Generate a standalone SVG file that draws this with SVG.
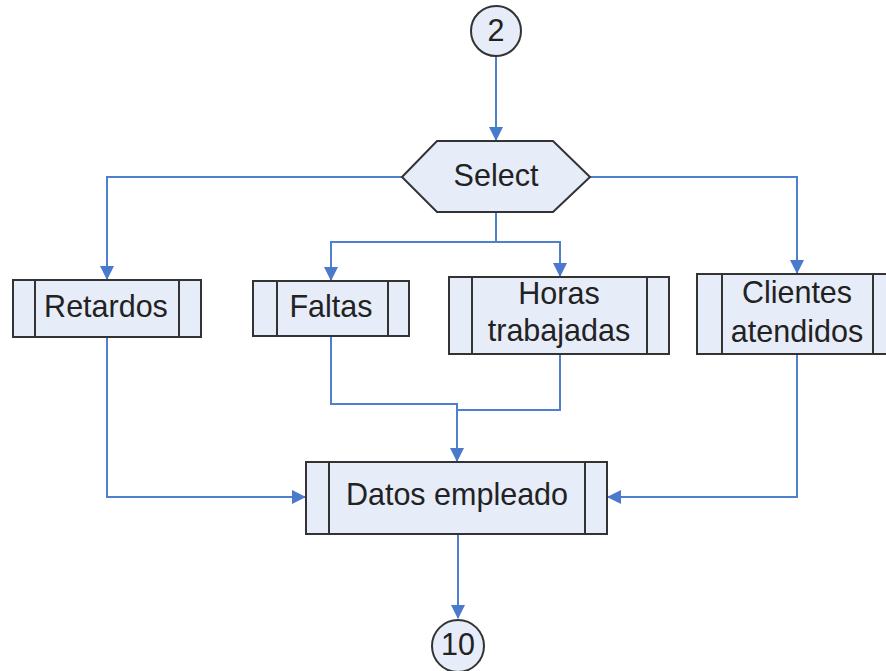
<svg xmlns="http://www.w3.org/2000/svg" width="886" height="671" viewBox="0 0 886 671">
<style>
.n{fill:#e6ecf8;stroke:#333;stroke-width:2}
.i{stroke:#333;stroke-width:2;fill:none}
.c{fill:none;stroke:#4f7fcf;stroke-width:2}
.t{font-family:"Liberation Sans",Arial,sans-serif;font-size:30.5px;fill:#222;text-anchor:middle}
</style>
<defs>
<marker id="a" markerWidth="14" markerHeight="14" refX="13" refY="7" orient="auto" markerUnits="userSpaceOnUse">
<path d="M0,0 L14,7 L0,14 Z" fill="#4a7acb"/>
</marker>
</defs>
<rect width="886" height="671" fill="#fff"/>
<g id="connectors">
<path class="c" d="M496,57 V140" marker-end="url(#a)"/>
<path class="c" d="M402,177 H107 V279" marker-end="url(#a)"/>
<path class="c" d="M590,177 H797 V273" marker-end="url(#a)"/>
<path class="c" d="M496,212 V242 H331 V280" marker-end="url(#a)"/>
<path class="c" d="M496,242 H560 V276" marker-end="url(#a)"/>
<path class="c" d="M107,337 V497 H305" marker-end="url(#a)"/>
<path class="c" d="M331,336 V404 H457 V461" marker-end="url(#a)"/>
<path class="c" d="M560,354 V410 H457"/>
<path class="c" d="M797,354 V497 H608" marker-end="url(#a)"/>
<path class="c" d="M458,534 V618" marker-end="url(#a)"/>
</g>
<g id="c2">
<circle class="n" cx="496" cy="31" r="25"/>
<text class="t" x="496" y="41">2</text>
</g>
<g id="select">
<polygon class="n" points="402,177 437,141 553,141 590,177 553,212 437,212"/>
<text class="t" x="496" y="186">Select</text>
</g>
<g id="retardos">
<rect class="n" x="13" y="280" width="188" height="57"/>
<path class="i" d="M35,280 V337 M179,280 V337"/>
<text class="t" x="106" y="317">Retardos</text>
</g>
<g id="faltas">
<rect class="n" x="253" y="281" width="156" height="55"/>
<path class="i" d="M277,281 V336 M388,281 V336"/>
<text class="t" x="331" y="317">Faltas</text>
</g>
<g id="horas">
<rect class="n" x="449" y="277" width="220" height="77"/>
<path class="i" d="M472,277 V354 M647,277 V354"/>
<text class="t" x="559" y="304">Horas</text>
<text class="t" x="559" y="341">trabajadas</text>
</g>
<g id="clientes">
<rect class="n" x="697" y="274" width="200" height="80"/>
<path class="i" d="M722,274 V354 M873,274 V354"/>
<text class="t" x="797" y="303">Clientes</text>
<text class="t" x="797" y="342">atendidos</text>
</g>
<g id="datos">
<rect class="n" x="306" y="462" width="301" height="72"/>
<path class="i" d="M329,462 V534 M585,462 V534"/>
<text class="t" x="457" y="505">Datos empleado</text>
</g>
<g id="c10">
<circle class="n" cx="458" cy="646" r="26"/>
<text class="t" x="458" y="655">10</text>
</g>
</svg>
